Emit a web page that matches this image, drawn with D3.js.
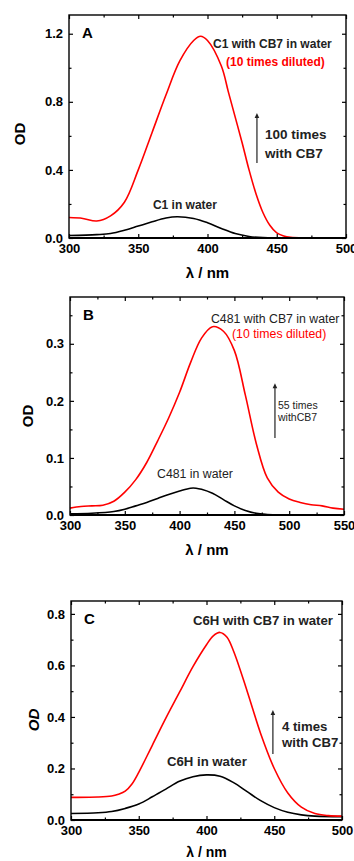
<!DOCTYPE html>
<html>
<head>
<meta charset="utf-8" />
<script src="https://d3js.org/d3.v7.min.js"></script>
<style>
  body { margin: 0; background: #fff; }
  text { font-family: "Liberation Sans", Arial, sans-serif; }
</style>
</head>
<body>
<script>
  // spectra: [wavelength nm, OD]
  var redA = [[300,0.12],[310,0.115],[320,0.10],[330,0.13],[340,0.21],[350,0.40],[360,0.62],[370,0.84],
              [380,1.04],[390,1.16],[395,1.185],[400,1.16],[410,1.01],[415,0.86],[420,0.71],[425,0.56],
              [430,0.40],[435,0.26],[440,0.15],[445,0.075],[450,0.03],[455,0.012],[460,0.004],[470,0.0],[500,0.0]];
  var blackA = [[300,0.015],[320,0.02],[330,0.026],[340,0.045],[350,0.07],[360,0.095],[370,0.117],[378,0.125],
                [390,0.115],[400,0.09],[410,0.056],[420,0.026],[430,0.009],[440,0.002],[450,0.0],[500,0.0]];

  var redB = [[300,0.012],[310,0.015],[320,0.016],[330,0.017],[340,0.024],[350,0.04],[360,0.062],[370,0.092],
              [380,0.13],[390,0.17],[400,0.215],[410,0.267],[420,0.31],[430,0.33],[440,0.322],[450,0.288],
              [460,0.21],[470,0.125],[480,0.065],[490,0.04],[500,0.028],[510,0.022],[520,0.018],[530,0.016],
              [540,0.012],[550,0.01]];
  var blackB = [[300,0.002],[320,0.003],[340,0.006],[350,0.01],[360,0.016],[370,0.022],[380,0.029],[390,0.036],
                [400,0.042],[410,0.047],[415,0.047],[420,0.045],[430,0.038],[440,0.027],[450,0.016],[460,0.008],
                [470,0.003],[480,0.001],[490,0.0],[550,0.0]];

  var redC = [[300,0.088],[320,0.089],[330,0.093],[335,0.1],[340,0.112],[345,0.14],[350,0.185],[360,0.29],
              [370,0.395],[380,0.495],[390,0.595],[400,0.68],[405,0.715],[410,0.728],[415,0.71],[420,0.655],
              [430,0.5],[440,0.335],[450,0.2],[460,0.105],[470,0.05],[480,0.025],[490,0.017],[500,0.015]];
  var blackC = [[300,0.025],[320,0.028],[330,0.033],[340,0.045],[350,0.062],[360,0.09],[370,0.12],[380,0.15],
                [390,0.168],[400,0.175],[410,0.17],[420,0.145],[430,0.11],[440,0.075],[450,0.048],[460,0.03],
                [470,0.02],[480,0.015],[500,0.013]];

  // axis ranges and ticks
  var xDomA = [300, 500], yDomA = [0, 1.31];
  var xDomB = [300, 550], yDomB = [0, 0.382];
  var xDomC = [300, 500], yDomC = [0, 0.85];
  var yTicksA = [0, 0.4, 0.8, 1.2], yMinorA = [0.2, 0.6, 1.0];
  var yTicksB = [0, 0.1, 0.2, 0.3], yMinorB = [0.05, 0.15, 0.25, 0.35];
  var yTicksC = [0, 0.2, 0.4, 0.6, 0.8], yMinorC = [0.1, 0.3, 0.5, 0.7];

  var svg = d3.select("body").append("svg")
              .attr("width", 354)
              .attr("height", 861);

  function panel(opt) {
    var x = d3.scaleLinear().domain(opt.xDom).range([opt.left, opt.right]);
    var y = d3.scaleLinear().domain(opt.yDom).range([opt.bottom, opt.top]);
    var g = svg.append("g");

    var xMaj = d3.range(opt.xDom[0], opt.xDom[1] + 1, 50);
    var xMin = d3.range(opt.xDom[0] + 25, opt.xDom[1], 50);

    // curves
    var line = d3.line()
                 .x(function(d) { return x(d[0]); })
                 .y(function(d) { return Math.min(y(d[1]), opt.bottom); })
                 .curve(d3.curveCatmullRom.alpha(0.5));
    g.append("path").attr("d", line(opt.black)).attr("fill", "none")
     .attr("stroke", "#000").attr("stroke-width", 1.6);
    g.append("path").attr("d", line(opt.red)).attr("fill", "none")
     .attr("stroke", "#ff0000").attr("stroke-width", 1.6);

    // axes, ticks pointing in
    function ax(a, tr, vals, size, lab) {
      var s = g.append("g").attr("transform", tr)
               .call(a.tickValues(vals).tickSize(size).tickPadding(lab ? 6 : 0)
                      .tickFormat(lab ? lab : function() { return ""; }));
      s.select(".domain").remove();
      s.selectAll("line").attr("stroke", "#000").attr("stroke-width", 1.2);
      s.selectAll("text").attr("font-size", 13).attr("font-weight", "bold").attr("fill", "#000")
       .attr("font-family", "'Liberation Sans', Arial, sans-serif");
      return s;
    }
    var fy = d3.format(".1f"), fx = d3.format("d");
    ax(d3.axisBottom(x), "translate(0," + opt.bottom + ")", xMaj, -4, fx);
    ax(d3.axisBottom(x), "translate(0," + opt.bottom + ")", xMin, -2.5, null);
    ax(d3.axisTop(x), "translate(0," + opt.top + ")", xMaj, -4, null);
    ax(d3.axisTop(x), "translate(0," + opt.top + ")", xMin, -2.5, null);
    ax(d3.axisLeft(y), "translate(" + opt.left + ",0)", opt.yTicks, -4, fy);
    ax(d3.axisLeft(y), "translate(" + opt.left + ",0)", opt.yMinor, -2.5, null);
    ax(d3.axisRight(y), "translate(" + opt.right + ",0)", opt.yTicks, -4, null);
    ax(d3.axisRight(y), "translate(" + opt.right + ",0)", opt.yMinor, -2.5, null);

    g.append("rect")
     .attr("x", opt.left).attr("y", opt.top)
     .attr("width", opt.right - opt.left).attr("height", opt.bottom - opt.top)
     .attr("fill", "none").attr("stroke", "#000").attr("stroke-width", 1.4);
    g.append("line")
     .attr("x1", opt.left).attr("x2", opt.right)
     .attr("y1", opt.bottom).attr("y2", opt.bottom)
     .attr("stroke", "#000").attr("stroke-width", 2);

    // panel letter
    g.append("text").attr("x", opt.left + 13).attr("y", opt.top + 23)
     .attr("font-size", 15).attr("font-weight", "bold").text(opt.letter);

    // axis titles
    g.append("text").attr("x", (opt.left + opt.right) / 2).attr("y", opt.xTitleY)
     .attr("text-anchor", "middle").attr("font-size", opt.xTitleSize || 15).attr("font-weight", "bold")
     .text("\u03bb / nm");
    g.append("text")
     .attr("transform", "translate(" + opt.yTitleX + "," + opt.yTitleY + ") rotate(-90)")
     .attr("text-anchor", "middle").attr("font-size", 15).attr("font-weight", "bold")
     .attr("font-style", opt.italicOD ? "italic" : "normal")
     .text("OD");

    // annotations placed in data coordinates
    opt.notes.forEach(function(n) {
      g.append("text").attr("x", x(n.at[0])).attr("y", y(n.at[1]))
       .attr("font-size", n.size).attr("font-weight", n.bold ? "bold" : "normal")
       .attr("fill", n.color || "#222").text(n.text);
    });

    // enhancement arrow
    var a = opt.arrow;
    g.append("line").attr("x1", x(a[0])).attr("x2", x(a[0]))
     .attr("y1", y(a[1])).attr("y2", y(a[2]) + 4)
     .attr("stroke", "#222").attr("stroke-width", 1.2);
    g.append("path")
     .attr("d", "M" + (x(a[0]) - 2.3) + "," + (y(a[2]) + 5) + "L" + x(a[0]) + "," + y(a[2]) +
                "L" + (x(a[0]) + 2.3) + "," + (y(a[2]) + 5) + "Z")
     .attr("fill", "#222");
  }

  panel({
    letter: "A", xDom: xDomA, yDom: yDomA, yTicks: yTicksA, yMinor: yMinorA,
    left: 69, right: 346, top: 15, bottom: 238,
    red: redA, black: blackA,
    xTitleY: 278, yTitleX: 25, yTitleY: 134,
    arrow: [435.7, 0.44, 0.734],
    notes: [
      { text: "C1 with CB7 in water", at: [404, 1.116], size: 12, bold: true },
      { text: "(10 times diluted)", at: [413.4, 1.01], size: 12, bold: true, color: "#ff0000" },
      { text: "100 times", at: [441.5, 0.58], size: 13.5, bold: true },
      { text: "with CB7", at: [441.5, 0.47], size: 13.5, bold: true },
      { text: "C1 in water", at: [360.6, 0.17], size: 12, bold: true }
    ]
  });

  panel({
    letter: "B", xDom: xDomB, yDom: yDomB, yTicks: yTicksB, yMinor: yMinorB,
    left: 70, right: 344, top: 297, bottom: 515,
    red: redB, black: blackB,
    xTitleY: 555, yTitleX: 33, yTitleY: 416,
    arrow: [487, 0.135, 0.231],
    notes: [
      { text: "C481 with CB7 in water", at: [428.6, 0.336], size: 12.3, bold: false },
      { text: "(10 times diluted)", at: [447.8, 0.31], size: 12.3, bold: false, color: "#ff0000" },
      { text: "55 times", at: [489.8, 0.186], size: 10.5, bold: false },
      { text: "withCB7", at: [489.8, 0.164], size: 10.5, bold: false },
      { text: "C481 in water", at: [379.4, 0.065], size: 12.3, bold: false }
    ]
  });

  panel({
    letter: "C", xDom: xDomC, yDom: yDomC, yTicks: yTicksC, yMinor: yMinorC,
    left: 71, right: 342, top: 601, bottom: 820,
    red: redC, black: blackC,
    xTitleY: 857, xTitleSize: 14, yTitleX: 39, yTitleY: 720, italicOD: true,
    arrow: [449, 0.256, 0.427],
    notes: [
      { text: "C6H with CB7 in water", at: [390, 0.757], size: 13.2, bold: true },
      { text: "4 times", at: [455.7, 0.345], size: 13.2, bold: true },
      { text: "with CB7", at: [455.7, 0.283], size: 13.2, bold: true },
      { text: "C6H in water", at: [370.8, 0.21], size: 13.2, bold: true }
    ]
  });
</script>
</body>
</html>
